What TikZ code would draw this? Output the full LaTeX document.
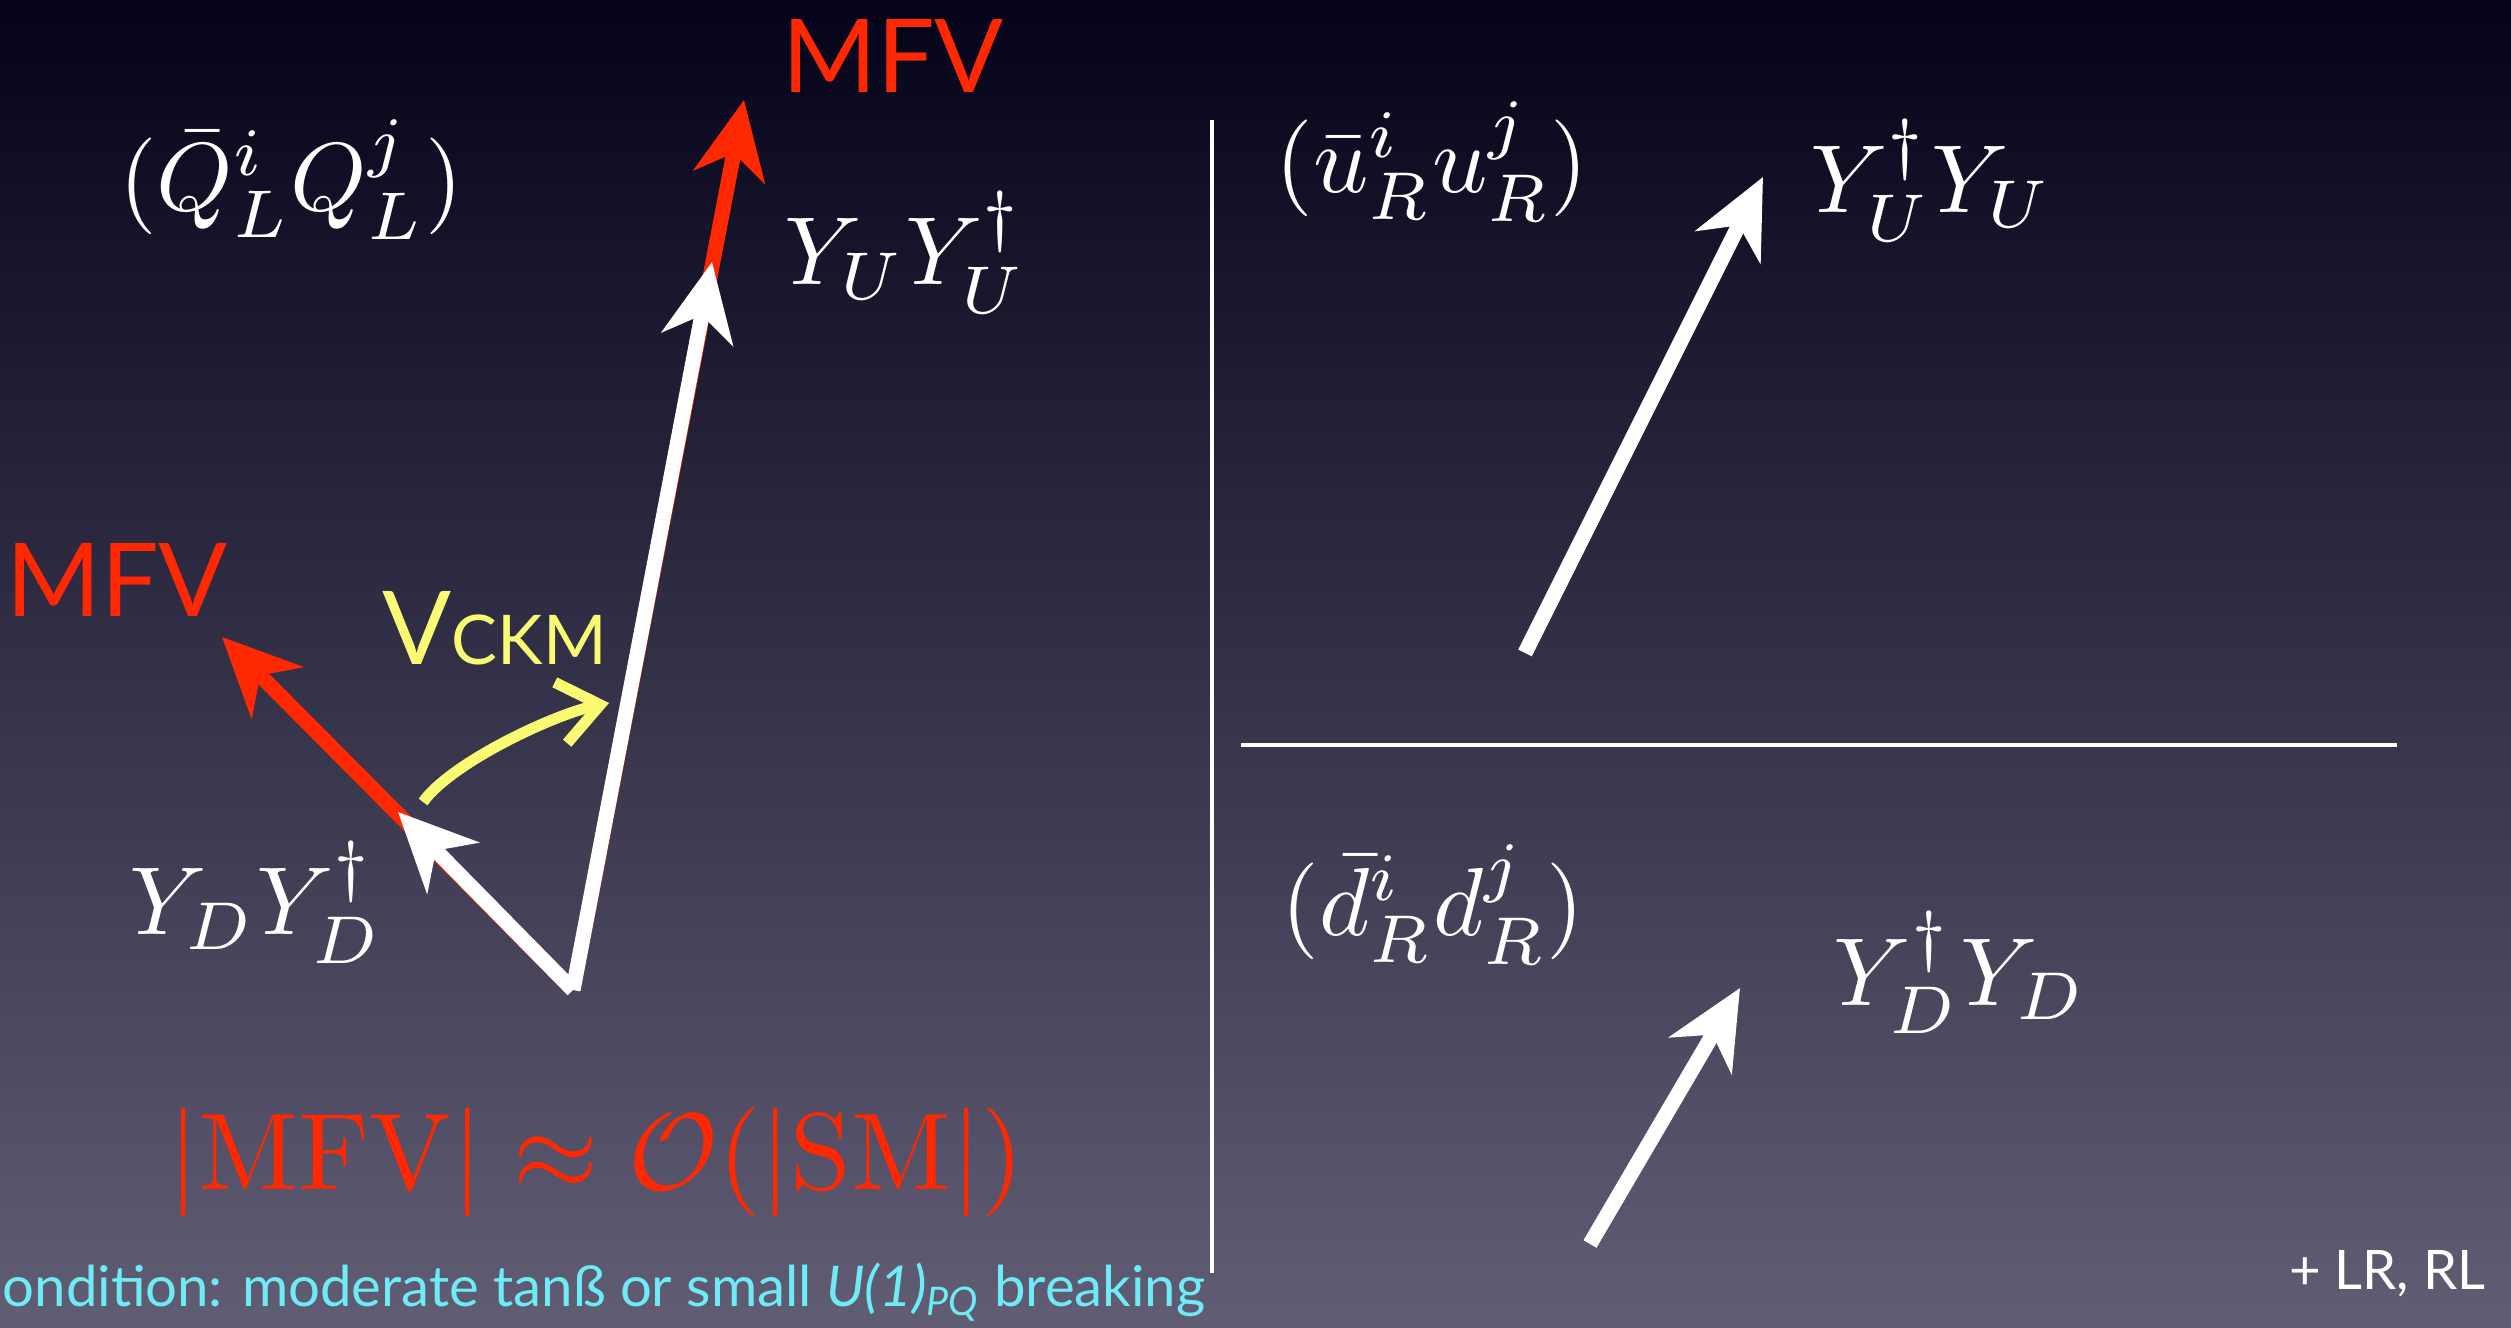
\RequirePackage{fix-cm}
\documentclass[tikz,border=0pt]{standalone}
\usepackage[no-math]{fontspec}
\setmainfont{Lato}
\usetikzlibrary{arrows.meta}
\definecolor{mfvred}{RGB}{255,40,0}
\definecolor{ckmyellow}{RGB}{250,250,115}
\definecolor{condcyan}{RGB}{110,235,245}
\definecolor{bgtop}{RGB}{5,3,26}
\definecolor{bgmid}{RGB}{50,50,80}
\definecolor{bgbot}{RGB}{96,93,116}

\begin{document}
\begin{tikzpicture}[x=0.01cm,y=-0.01cm,
    vec/.style={line width=0.15cm,-{Stealth[length=0.78cm,width=0.72cm,inset=0.24cm]}},
    ckm/.style={ckmyellow,line width=0.11cm,-{Straight Barb[length=0.4cm,width=0.62cm]}},
    eqn/.style={text=white,inner sep=0pt,anchor=base,scale=2.75,transform shape},
    word/.style={inner sep=0pt,anchor=base,font=\fontsize{29}{35}\selectfont}]
    \useasboundingbox (0,0) rectangle (2511,1328);
    \shade[top color=bgtop,middle color=bgmid,bottom color=bgbot] (0,0) rectangle (2511,1328);
    % panels
    \draw[white,line width=0.04cm] (1212,120) -- (1212,1273);
    \draw[white,line width=0.04cm] (1241,745) -- (2397,745);
    % left panel
    \coordinate (o) at (573,990);
    \coordinate (up) at (744,100);
    \coordinate (upsm) at (712,262);
    \coordinate (dn) at (222,637);
    \coordinate (dnsm) at (398,812);
    \draw[vec,mfvred] (o) -- (up);
    \draw[vec,mfvred] (o) -- (dn);
    \draw[vec,white] (o) -- (upsm);
    \draw[vec,white] (o) -- (dnsm);
    \coordinate (ckm0) at (423,802);
    \coordinate (ckm1) at (609,703);
    \draw[ckm] (ckm0) .. controls (452,762) and (555,714) .. (ckm1);
    \node[eqn] (qL) at (291,211) {$(\bar{Q}^i_L Q^j_L)$};
    \node[eqn] (yu) at (905,285) {$Y_U Y_U^\dagger$};
    \node[eqn] (yd) at (256,935) {$Y_D Y_D^\dagger$};
    \node[word,text=mfvred] (mfvup) at (893,93) {MFV};
    \node[word,text=mfvred] (mfvdn) at (117,617) {MFV};
    \node[word,text=ckmyellow,anchor=base west] (vckm) at (382,665) {V{\fontsize{19.5}{24}\selectfont CKM}};
    \node[eqn,text=mfvred,scale=3.1/2.75] (size) at (596,1190)
        {$|\mathrm{MFV}| \approx \mathcal{O}(|\mathrm{SM}|)$};
    \node[inner sep=0pt,anchor=base west,text=condcyan,font=\fontsize{16}{19}\selectfont] (cond) at (2,1306)
        {ondition: moderate tanß or small \textit{U(1)}\textsubscript{\textit{PQ}} breaking};
    % right panel
    \coordinate (uR0) at (1525,653);
    \coordinate (uR1) at (1763,177);
    \coordinate (dR0) at (1590,1244);
    \coordinate (dR1) at (1740,988);
    \draw[vec,white] (uR0) -- (uR1);
    \draw[vec,white] (dR0) -- (dR1);
    \node[eqn] (uR) at (1432,193) {$(\bar{u}^i_R u^j_R)$};
    \node[eqn] (yuR) at (1931,213) {$Y_U^\dagger Y_U$};
    \node[eqn] (dR) at (1433,936) {$(\bar{d}^i_R d^j_R)$};
    \node[eqn] (ydR) at (1960,1005) {$Y_D^\dagger Y_D$};
    \node[inner sep=0pt,anchor=base east,text=white,font=\fontsize{15.5}{18}\selectfont] (lr) at (2486,1289) {+ LR, RL};
\end{tikzpicture}
\end{document}
